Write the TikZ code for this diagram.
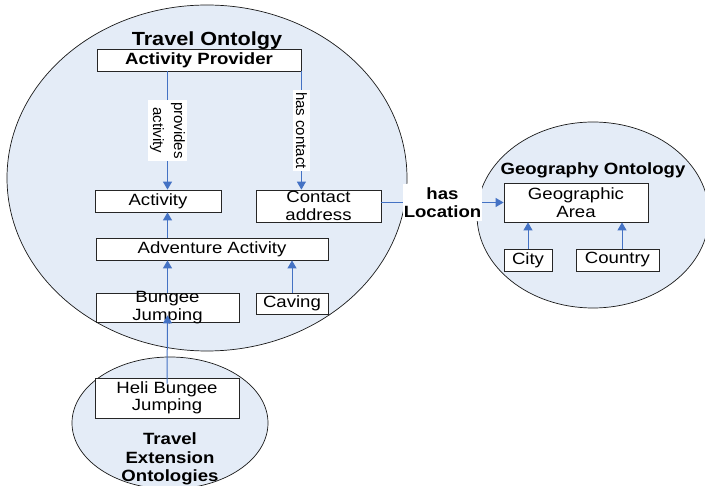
\documentclass[tikz,border=0pt]{standalone}
\usepackage{fontspec}
\setmainfont{Liberation Sans}[FakeStretch=1.14]
\newfontfamily\labelfont{Liberation Sans}
\usetikzlibrary{arrows.meta}
\definecolor{ontofill}{RGB}{228,236,247}
\definecolor{linkblue}{RGB}{68,114,196}
\tikzstyle{onto} = [draw=black!90, line width=0.7pt, fill=ontofill]
\tikzstyle{concept} = [rectangle, minimum height=22pt, inner sep=0pt, align=center, draw=black!85, line width=0.8pt, fill=white]
\tikzstyle{title} = [font=\fontsize{16.3}{18.5}\selectfont\bfseries, align=center, anchor=base]
\tikzstyle{rel} = [fill=white, inner sep=2pt, align=center, font=\labelfont\fontsize{15}{21}\selectfont]
\tikzstyle{arrow} = [line width=1pt, draw=linkblue, -{Triangle[length=8pt,width=9pt]}]

\begin{document}
\fontsize{16.3}{17.5}\selectfont
\begin{tikzpicture}[x=1pt, y=-1pt]
	\useasboundingbox (0,0) rectangle (705,486);
	\clip (0,0) rectangle (705,486);
	% ontologies
	\draw [onto] (207,178) ellipse [x radius=200pt, y radius=173pt];
	\draw [onto] (593,215) ellipse [x radius=116pt, y radius=93pt];
	\draw [onto] (170,423) ellipse [x radius=98pt, y radius=66pt];
	\node (travel) [title, font=\fontsize{19}{22}\selectfont\bfseries] at (207,46) {Travel Ontolgy};
	\node (geog) [title] at (593,175) {Geography Ontology};
	\node (ext) [title] at (170,482) {Travel\\Extension\\Ontologies};
	% concepts
	\node (prov) [concept, minimum width=204pt, font=\bfseries] at (199,60) {Activity Provider};
	\node (act) [concept, minimum width=126pt] at (158,201) {Activity};
	\node (contact) [concept, minimum width=125pt, minimum height=32pt] at (318.5,206) {Contact\\address};
	\node (adv) [concept, minimum width=232pt] at (212,249) {Adventure Activity};
	\node (bungee) [concept, minimum width=143pt, minimum height=29pt, inner ysep=-2pt] at (167.5,307.5) {Bungee\\Jumping};
	\node (caving) [concept, minimum width=72pt, minimum height=21pt] at (292,303.5) {Caving};
	\node (heli) [concept, minimum width=144pt, minimum height=40pt] at (167,398) {Heli Bungee\\Jumping};
	\node (area) [concept, minimum width=144pt, minimum height=39pt] at (576,202.5) {Geographic\\Area};
	\node (city) [concept, minimum width=48pt] at (528,260) {City};
	\node (country) [concept, minimum width=83pt] at (617.5,260) {Country};
	% relations
	\draw [arrow] (prov.south -| bungee.north) -- node [rel, rotate=-90] (provlbl) {provides\\activity} (act.north -| bungee.north);
	\draw [arrow] (prov.south east) -- node [rel, rotate=-90, inner ysep=3pt] (contactlbl) {has contact} (prov.south east |- contact.north);
	\draw [arrow] (contact.east |- area.west) -- node [rel, inner xsep=1pt, inner ysep=3pt, font=\fontsize{16.3}{18.5}\selectfont\bfseries] (loclbl) {has\\Location} (area.west);
	\draw [arrow] (adv.north -| bungee.north) -- (act.south -| bungee.north);
	\draw [arrow] (bungee.north) -- (adv.south -| bungee.north);
	\draw [arrow] (caving.north) -- (caving.north |- adv.south);
	\draw [arrow] ([yshift=-6pt]heli.north) -- ([yshift=7pt]bungee.south);
	\draw [arrow] (city.north) -- (city.north |- area.south);
	\draw [arrow] ([xshift=4.5pt]country.north) -- ([xshift=4.5pt]country.north |- area.south);
\end{tikzpicture}
\end{document}
